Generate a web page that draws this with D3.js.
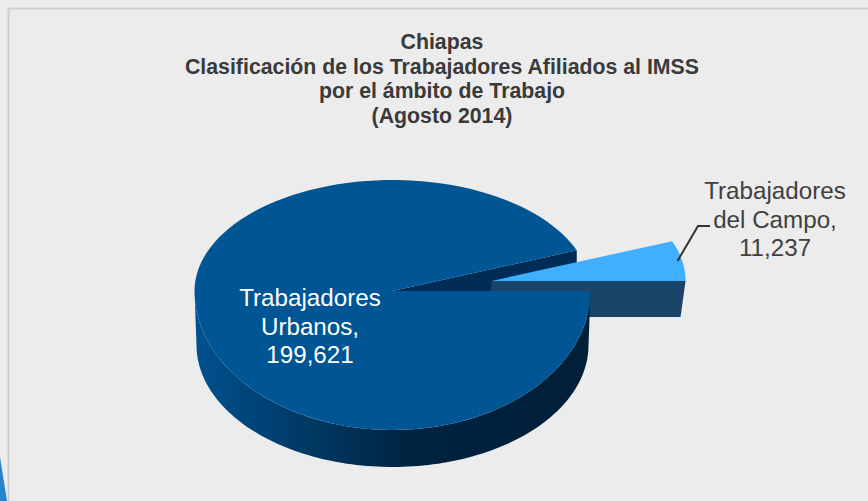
<!DOCTYPE html>
<html>
<head>
<meta charset="utf-8">
<script src="https://cdn.jsdelivr.net/npm/d3@7"></script>
<style>
  html, body { margin: 0; padding: 0; background: #ececec; }
  svg { display: block; }
  text { font-family: "Liberation Sans", Arial, sans-serif; }
</style>
</head>
<body>
<svg id="chart" width="868" height="501"></svg>
<script>
const categories = ["Trabajadores del Campo", "Trabajadores Urbanos"];
const values = [11237, 199621];
const titleLines = [
    "Chiapas",
    "Clasificación de los Trabajadores Afiliados al IMSS",
    "por el ámbito de Trabajo",
    "(Agosto 2014)"
];
const labelLines = [
    ["Trabajadores", "del Campo,"],
    ["Trabajadores", "Urbanos,"]
];

const svg = d3.select("#chart");
const fmt = d3.format(",");

// background frame + the bit of slide decoration in the corner
svg.append("path")
    .attr("d", "M8.5,501V8.5H868")
    .attr("fill", "none")
    .attr("stroke", "#cfcfcf")
    .attr("stroke-width", 2);
svg.append("path").attr("d", "M0,457L7,501H0Z").attr("fill", "#2585cc");

// tilted pie: the top face is squashed more behind the centre than in front
const cx = 392.5, cy = 291;
const rx = 198, ryBack = 111, ryFront = 139;
const depth = 37;
const explode = { dx: 99, dy: -10, scale: 0.98 };
const tiltStretch = 1.12; // the tilt makes the small slice look a bit wider than its share

// bottom rim sits lower and a bit narrower than the top one
const bottomRim = { cx: 392.5, cy: 345, rx: 196, ry: 122 };

function project(angle, c) {
    const s = Math.sin(angle), k = Math.cos(angle);
    return [c.x + c.rx * k, c.y + (s < 0 ? c.ryBack : c.ryFront) * s];
}

const arcs = d3.pie().sort(null)(values);
const smallSweep = (arcs[0].endAngle - arcs[0].startAngle) * tiltStretch;

const line = d3.line();
const steps = a => d3.range(0, 121).map(i => a[0] + (a[1] - a[0]) * i / 120);

const topFace = { x: cx, y: cy, rx: rx, ryBack: ryBack, ryFront: ryFront };
const bottomFace = { x: bottomRim.cx, y: bottomRim.cy, rx: bottomRim.rx, ryBack: bottomRim.ry, ryFront: bottomRim.ry };

const defs = svg.append("defs");
const grad = defs.append("linearGradient")
    .attr("id", "sideGrad")
    .attr("gradientUnits", "userSpaceOnUse")
    .attr("x1", 195).attr("x2", 591).attr("y1", 0).attr("y2", 0);
grad.append("stop").attr("offset", "0").attr("stop-color", "#00518f");
grad.append("stop").attr("offset", "0.27").attr("stop-color", "#003a66");
grad.append("stop").attr("offset", "0.55").attr("stop-color", "#002340");
grad.append("stop").attr("offset", "1").attr("stop-color", "#001f38");

// inner cut of the big slice, seen through the gap
const rimPoint = project(-smallSweep, topFace);
svg.append("path")
    .attr("d", line([[cx, cy], rimPoint, [rimPoint[0], rimPoint[1] + depth], [cx, cy + depth]]) + "Z")
    .attr("fill", "#002c55");

// exploded slice
const ex = {
    x: cx + explode.dx, y: cy + explode.dy,
    rx: rx * explode.scale, ryBack: ryBack * explode.scale, ryFront: ryFront * explode.scale
};
const exRight = project(0, ex);
svg.append("path")
    .attr("d", line([[ex.x, ex.y], exRight, [exRight[0] - 5, exRight[1] + depth - 1], [ex.x - 2, ex.y + depth - 1]]) + "Z")
    .attr("fill", "#1a4568");
svg.append("path")
    .attr("d", line([[ex.x, ex.y]].concat(steps([-smallSweep, 0]).map(a => project(a, ex)))) + "Z")
    .attr("fill", "#3fb0ff");

// side wall of the big slice
svg.append("path")
    .attr("d", line(
        steps([0, Math.PI]).map(a => project(a, topFace))
            .concat(steps([Math.PI, 0]).map(a => project(a, bottomFace)))
    ) + "Z")
    .attr("fill", "url(#sideGrad)");

// top of the big slice
svg.append("path")
    .attr("d", line([[cx, cy]].concat(steps([0, 2 * Math.PI - smallSweep]).map(a => project(a, topFace)))) + "Z")
    .attr("fill", "#005595");

// title
svg.append("g").selectAll("text")
    .data(titleLines)
    .join("text")
    .attr("x", 442)
    .attr("y", (d, i) => 49 + i * 24.6)
    .attr("text-anchor", "middle")
    .attr("font-size", 21.3)
    .attr("font-weight", "bold")
    .attr("fill", "#3a3a3a")
    .text(d => d);

// leader line for the small slice
svg.append("path")
    .attr("d", "M677.5,261L698,226H710")
    .attr("fill", "none")
    .attr("stroke", "#333")
    .attr("stroke-width", 2);

// data labels
const labelPos = [
    { x: 775, y: 199, fill: "#404040" },
    { x: 310, y: 306, fill: "#ffffff" }
];
labelLines.forEach((lines, k) => {
    svg.append("text")
        .attr("text-anchor", "middle")
        .attr("font-size", 24.2)
        .attr("fill", labelPos[k].fill)
        .selectAll("tspan")
        .data(lines.concat(fmt(values[k])))
        .join("tspan")
        .attr("x", labelPos[k].x)
        .attr("y", (d, i) => labelPos[k].y + i * 28.7)
        .text(d => d);
});
</script>
</body>
</html>
